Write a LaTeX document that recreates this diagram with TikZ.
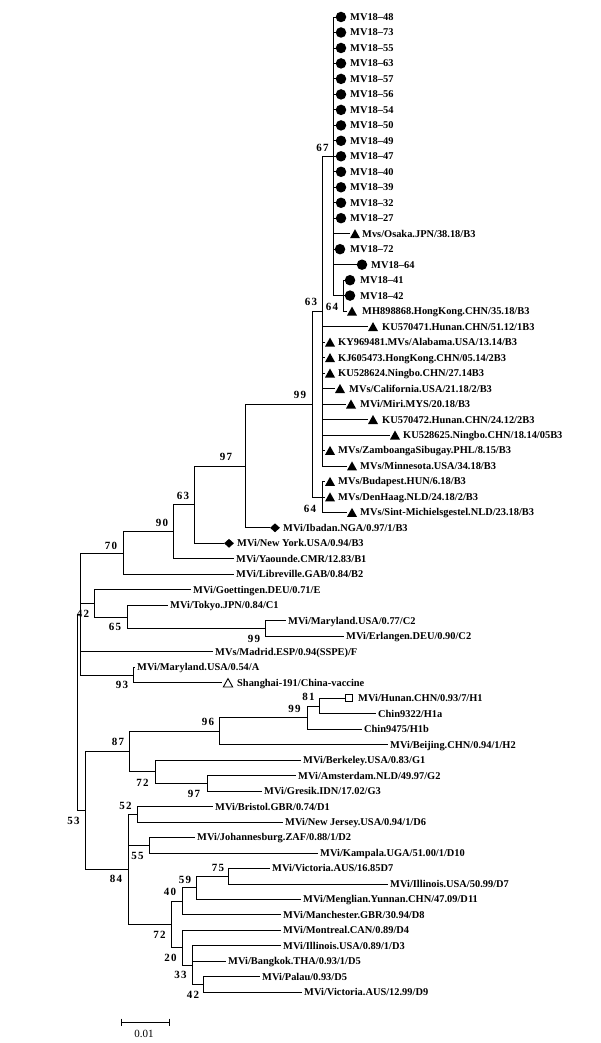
\documentclass[tikz,border=0pt]{standalone}
\usepackage{fontspec}
\setmainfont{Liberation Serif}
\usetikzlibrary{shapes.geometric}
\newcommand\bv[2]{#1\kern1.4pt#2}
\begin{document}
\begin{tikzpicture}[x=1pt,y=-1pt,
  lf/.style={anchor=west, inner xsep=2.5pt, inner ysep=0pt, text height=7pt, text depth=0pt, font=\bfseries\fontsize{10.4}{12}\selectfont},
  bs/.style={inner sep=0pt, font=\bfseries\fontsize{11}{13}\selectfont},
  dot/.style={circle, fill=black, minimum size=10.5pt, inner sep=0pt},
  tri/.style={rectangle, minimum width=10pt, minimum height=9pt, inner sep=0pt,
    path picture={\fill[black] (path picture bounding box.south west) -- (path picture bounding box.south east) -- (path picture bounding box.north) -- cycle;}},
  otri/.style={rectangle, minimum width=11pt, minimum height=10pt, inner sep=0pt,
    path picture={\draw[black, line width=0.9pt] ([shift={(0.8pt,0.6pt)}]path picture bounding box.south west) -- ([shift={(-0.8pt,0.6pt)}]path picture bounding box.south east) -- ([yshift=-1pt]path picture bounding box.north) -- cycle;}},
  dia/.style={diamond, fill=black, minimum width=10pt, minimum height=9pt, inner sep=0pt},
  osq/.style={rectangle, draw=black, line width=1pt, minimum size=7.5pt, inner sep=0pt},
  br/.style={line width=0.8pt, black}]
\useasboundingbox[fill=white] (0,0) rectangle (601,1043);

% internal nodes
\coordinate (root) at (77,712);
\coordinate (n42) at (80,614);
\coordinate (n70) at (123,553);
\coordinate (n90) at (173,531.7);
\coordinate (n63l) at (194,504.6);
\coordinate (n97) at (245,465.9);
\coordinate (n99t) at (312,404);
\coordinate (n63t) at (322,311.1);
\coordinate (n67) at (333,156.3);
\coordinate (n64a) at (343,295.6);
\coordinate (n64b) at (322,496.9);
\coordinate (nCE) at (94,603.3);
\coordinate (n65) at (127,616.9);
\coordinate (n99c) at (265,628.5);
\coordinate (n93) at (133,674.9);
\coordinate (n53) at (85,810.3);
\coordinate (n87) at (129,751.3);
\coordinate (n96) at (219,731);
\coordinate (n99h) at (307,717.5);
\coordinate (n81) at (319,705.9);
\coordinate (n72g) at (155,771.6);
\coordinate (n97g) at (207,783.3);
\coordinate (n84) at (128,869.3);
\coordinate (n52) at (137,814.2);
\coordinate (n55) at (149,845.2);
\coordinate (n72d) at (171,924.5);
\coordinate (n40) at (182,901.3);
\coordinate (n59) at (196,887.8);
\coordinate (n75) at (228,876.2);
\coordinate (n20) at (182,947.7);
\coordinate (n33) at (192,965.2);
\coordinate (n42d) at (203,984.5);

% leaves: MV18 cluster
\node[dot] (m1) at (341,17.0) {};   \node[lf] (t1) at (347.5,17.0) {MV18--48};
\node[dot] (m2) at (341,32.5) {};   \node[lf] (t2) at (347.5,32.5) {MV18--73};
\node[dot] (m3) at (341,48.0) {};   \node[lf] (t3) at (347.5,48.0) {MV18--55};
\node[dot] (m4) at (341,63.4) {};   \node[lf] (t4) at (347.5,63.4) {MV18--63};
\node[dot] (m5) at (341,78.9) {};   \node[lf] (t5) at (347.5,78.9) {MV18--57};
\node[dot] (m6) at (341,94.4) {};   \node[lf] (t6) at (347.5,94.4) {MV18--56};
\node[dot] (m7) at (341,109.9) {};  \node[lf] (t7) at (347.5,109.9) {MV18--54};
\node[dot] (m8) at (341,125.4) {};  \node[lf] (t8) at (347.5,125.4) {MV18--50};
\node[dot] (m9) at (341,140.8) {};  \node[lf] (t9) at (347.5,140.8) {MV18--49};
\node[dot] (m10) at (341,156.3) {}; \node[lf] (t10) at (347.5,156.3) {MV18--47};
\node[dot] (m11) at (341,171.8) {}; \node[lf] (t11) at (347.5,171.8) {MV18--40};
\node[dot] (m12) at (341,187.3) {}; \node[lf] (t12) at (347.5,187.3) {MV18--39};
\node[dot] (m13) at (341,202.8) {}; \node[lf] (t13) at (347.5,202.8) {MV18--32};
\node[dot] (m14) at (341,218.2) {}; \node[lf] (t14) at (347.5,218.2) {MV18--27};
\node[tri] (m15) at (355,233.7) {}; \node[lf] (t15) at (359.5,233.7) {Mvs/Osaka.JPN/38.18/B3};
\node[dot] (m16) at (340,249.2) {}; \node[lf] (t16) at (347.5,249.2) {MV18--72};
\node[dot] (m17) at (362,264.7) {}; \node[lf] (t17) at (368.5,264.7) {MV18--64};
\node[dot] (m18) at (350,280.2) {}; \node[lf] (t18) at (357.5,280.2) {MV18--41};
\node[dot] (m19) at (350,295.6) {}; \node[lf] (t19) at (357.5,295.6) {MV18--42};
\node[tri] (m20) at (352,311.1) {}; \node[lf] (t20) at (359.5,311.1) {MH898868.HongKong.CHN/35.18/B3};
\node[tri] (m21) at (373,326.6) {}; \node[lf] (t21) at (379.5,326.6) {KU570471.Hunan.CHN/51.12/1B3};
\node[tri] (m22) at (330,342.1) {}; \node[lf] (t22) at (335.5,342.1) {KY969481.MVs/Alabama.USA/13.14/B3};
\node[tri] (m23) at (330,357.6) {}; \node[lf] (t23) at (335.5,357.6) {KJ605473.HongKong.CHN/05.14/2B3};
\node[tri] (m24) at (330,373.0) {}; \node[lf] (t24) at (335.5,373.0) {KU528624.Ningbo.CHN/27.14B3};
\node[tri] (m25) at (340,388.5) {}; \node[lf] (t25) at (346.5,388.5) {MVs/California.USA/21.18/2/B3};
\node[tri] (m26) at (351,404.0) {}; \node[lf] (t26) at (357.5,404.0) {MVi/Miri.MYS/20.18/B3};
\node[tri] (m27) at (373,419.5) {}; \node[lf] (t27) at (379.5,419.5) {KU570472.Hunan.CHN/24.12/2B3};
\node[tri] (m28) at (395,435.0) {}; \node[lf] (t28) at (400.5,435.0) {KU528625.Ningbo.CHN/18.14/05B3};
\node[tri] (m29) at (330,450.4) {}; \node[lf] (t29) at (335.5,450.4) {MVs/ZamboangaSibugay.PHL/8.15/B3};
\node[tri] (m30) at (352,465.9) {}; \node[lf] (t30) at (357.5,465.9) {MVs/Minnesota.USA/34.18/B3};
\node[tri] (m31) at (330,481.4) {}; \node[lf] (t31) at (335.5,481.4) {MVs/Budapest.HUN/6.18/B3};
\node[tri] (m32) at (330,496.9) {}; \node[lf] (t32) at (335.5,496.9) {MVs/DenHaag.NLD/24.18/2/B3};
\node[tri] (m33) at (352,512.4) {}; \node[lf] (t33) at (357.5,512.4) {MVs/Sint-Michielsgestel.NLD/23.18/B3};
\node[dia] (m34) at (275,527.8) {}; \node[lf] (t34) at (280.5,527.8) {MVi/Ibadan.NGA/0.97/1/B3};
\node[dia] (m35) at (229,543.3) {}; \node[lf] (t35) at (234.5,543.3) {MVi/New York.USA/0.94/B3};
\node[lf] (t36) at (233.5,558.8) {MVi/Yaounde.CMR/12.83/B1};
\node[lf] (t37) at (233.5,574.3) {MVi/Libreville.GAB/0.84/B2};
\node[lf] (t38) at (190.5,589.8) {MVi/Goettingen.DEU/0.71/E};
\node[lf] (t39) at (167.5,605.2) {MVi/Tokyo.JPN/0.84/C1};
\node[lf] (t40) at (285.5,620.7) {MVi/Maryland.USA/0.77/C2};
\node[lf] (t41) at (343.5,636.2) {MVi/Erlangen.DEU/0.90/C2};
\node[lf] (t42) at (212.5,651.7) {MVs/Madrid.ESP/0.94(SSPE)/F};
\node[lf] (t43) at (134.5,667.2) {MVi/Maryland.USA/0.54/A};
\node[otri] (m44) at (228,682.6) {}; \node[lf] (t44) at (234.5,682.6) {Shanghai-191/China-vaccine};
\node[osq] (m45) at (349,698.1) {}; \node[lf] (t45) at (355.5,698.1) {MVi/Hunan.CHN/0.93/7/H1};
\node[lf] (t46) at (375.5,713.6) {Chin9322/H1a};
\node[lf] (t47) at (361.5,729.1) {Chin9475/H1b};
\node[lf] (t48) at (387.5,744.6) {MVi/Beijing.CHN/0.94/1/H2};
\node[lf] (t49) at (300.5,760.0) {MVi/Berkeley.USA/0.83/G1};
\node[lf] (t50) at (295.5,775.5) {MVi/Amsterdam.NLD/49.97/G2};
\node[lf] (t51) at (261.5,791.0) {MVi/Gresik.IDN/17.02/G3};
\node[lf] (t52) at (212.5,806.5) {MVi/Bristol.GBR/0.74/D1};
\node[lf] (t53) at (282.5,822.0) {MVi/New Jersey.USA/0.94/1/D6};
\node[lf] (t54) at (194.5,837.4) {MVi/Johannesburg.ZAF/0.88/1/D2};
\node[lf] (t55) at (317.5,852.9) {MVi/Kampala.UGA/51.00/1/D10};
\node[lf] (t56) at (269.5,868.4) {MVi/Victoria.AUS/16.85D7};
\node[lf] (t57) at (387.5,883.9) {MVi/Illinois.USA/50.99/D7};
\node[lf] (t58) at (300.5,899.4) {MVi/Menglian.Yunnan.CHN/47.09/D11};
\node[lf] (t59) at (280.5,914.8) {MVi/Manchester.GBR/30.94/D8};
\node[lf] (t60) at (280.5,930.3) {MVi/Montreal.CAN/0.89/D4};
\node[lf] (t61) at (280.5,945.8) {MVi/Illinois.USA/0.89/1/D3};
\node[lf] (t62) at (225.5,961.3) {MVi/Bangkok.THA/0.93/1/D5};
\node[lf] (t63) at (259.5,976.8) {MVi/Palau/0.93/D5};
\node[lf] (t64) at (301.5,992.2) {MVi/Victoria.AUS/12.99/D9};

% branches
\begin{scope}[br]
\foreach \i in {1,...,17} \draw (n67) |- (m\i);
\foreach \i in {21,...,30} \draw (n63t) |- (m\i);
\foreach \p/\c in {root/n42, root/n53,
  n42/n70, n42/nCE, n42/t42, n42/n93,
  n70/n90, n70/t37, n90/n63l, n90/t36, n63l/n97, n63l/m35,
  n97/n99t, n97/m34, n99t/n63t, n99t/n64b, n63t/n67, n67/n64a,
  n64a/m18, n64a/m19, n64a/m20, n64b/m31, n64b/m32, n64b/m33,
  nCE/t38, nCE/n65, n65/t39, n65/n99c, n99c/t40, n99c/t41,
  n93/t43, n93/m44,
  n53/n87, n53/n84, n87/n96, n87/n72g, n96/n99h, n96/t48,
  n99h/n81, n99h/t47, n81/m45, n81/t46, n72g/t49, n72g/n97g,
  n97g/t50, n97g/t51, n84/n52, n84/n55, n84/n72d,
  n52/t52, n52/t53, n55/t54, n55/t55, n72d/n40, n72d/n20,
  n40/n59, n40/t59, n59/n75, n59/t58, n75/t56, n75/t57,
  n20/t60, n20/n33, n33/t61, n33/t62, n33/n42d, n42d/t63, n42d/t64}
  \draw (\p) |- (\c);
\end{scope}

% bootstrap values
\node[bs] (b67) at (322.5,148) {\bv67};
\node[bs] (b63t) at (311,301.5) {\bv63};
\node[bs] (b64a) at (332,306.5) {\bv64};
\node[bs] (b99t) at (300,395) {\bv99};
\node[bs] (b64b) at (310,508.5) {\bv64};
\node[bs] (b97) at (226,457) {\bv97};
\node[bs] (b63l) at (183,496) {\bv63};
\node[bs] (b90) at (162,523) {\bv90};
\node[bs] (b70) at (111,546) {\bv70};
\node[bs] (b42) at (83,613.5) {\bv42};
\node[bs] (b65) at (115,627) {\bv65};
\node[bs] (b99c) at (254,638.5) {\bv99};
\node[bs] (b93) at (122,685) {\bv93};
\node[bs] (b81) at (308.5,697) {\bv81};
\node[bs] (b99h) at (294.5,708.5) {\bv99};
\node[bs] (b96) at (208,721.5) {\bv96};
\node[bs] (b87) at (118,741.5) {\bv87};
\node[bs] (b72g) at (142.5,783) {\bv72};
\node[bs] (b97g) at (194,793.5) {\bv97};
\node[bs] (b53) at (73.5,820.5) {\bv53};
\node[bs] (b52) at (125.5,806) {\bv52};
\node[bs] (b55) at (137.5,855.5) {\bv55};
\node[bs] (b84) at (116,879) {\bv84};
\node[bs] (b75) at (218,867.5) {\bv75};
\node[bs] (b59) at (185,879.5) {\bv59};
\node[bs] (b40) at (170,892) {\bv40};
\node[bs] (b72d) at (159.5,935) {\bv72};
\node[bs] (b20) at (170.5,958) {\bv20};
\node[bs] (b33) at (180.5,975) {\bv33};
\node[bs] (b42d) at (193,994.5) {\bv42};

% scale bar
\coordinate (sbL) at (121,1022);
\coordinate (sbR) at (169,1022);
\draw[line width=0.7pt] (sbL) -- (sbR);
\draw[line width=0.7pt] ([yshift=3.5pt]sbL) -- ([yshift=-3.5pt]sbL);
\draw[line width=0.7pt] ([yshift=3.5pt]sbR) -- ([yshift=-3.5pt]sbR);
\node[inner sep=0pt, font=\fontsize{11}{12}\selectfont] (sbt) at (144,1034) {0.01};
\end{tikzpicture}
\end{document}
